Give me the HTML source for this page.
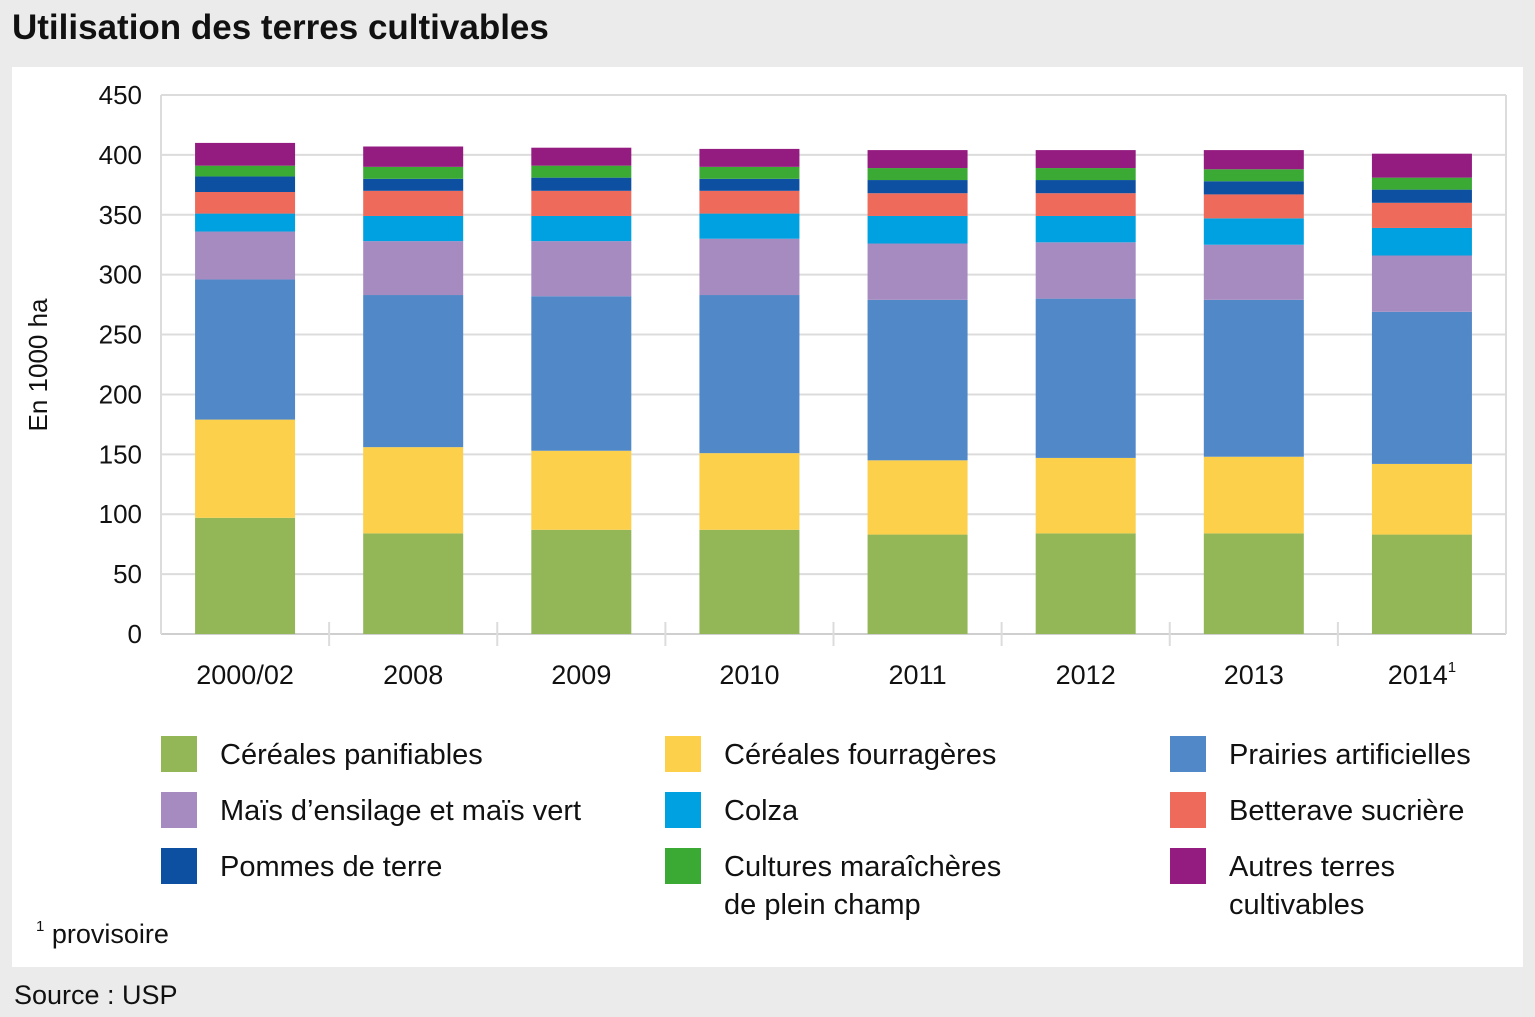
<!DOCTYPE html>
<html><head><meta charset="utf-8"><style>
body{margin:0;width:1535px;height:1017px;background:#ebebeb;font-family:"Liberation Sans Narrow","Liberation Sans",sans-serif;overflow:hidden;position:relative}
#title{position:absolute;left:12px;top:8px;font-size:35px;font-weight:bold;color:#111}
#panel{position:absolute;left:12px;top:67px;width:1511px;height:900px;background:#fff}
#src{position:absolute;left:14px;top:980px;font-size:27px;color:#111}
svg text{font-family:"Liberation Sans Narrow","Liberation Sans",sans-serif;fill:#111}
</style></head><body>
<div id="title">Utilisation des terres cultivables</div>
<div id="panel"></div>
<svg id="chart" width="1535" height="1017" style="position:absolute;left:0;top:0"></svg>
<div id="src">Source : USP</div>
<script>
const categories=["2000/02","2008","2009","2010","2011","2012","2013","2014"];
const cereales=[97,84,87,87,83,84,84,83];
const fourrageres=[82,72,66,64,62,63,64,59];
const prairies=[117,127,129,132,134,133,131,127];
const mais=[40,45,46,47,47,47,46,47];
const colza=[15,21,21,21,23,22,22,23];
const betterave=[18,21,21,19,19,19,20,21];
const pommes=[13,10,11,10,11,11,11,11];
const maraich=[9,10,10,10,10,10,10,10];
const autres=[19,17,15,15,15,15,16,20];
const yTicks=[0,50,100,150,200,250,300,350,400,450];
const series=[
 {name:"Céréales panifiables",v:cereales,c:"#93b757",k:"cereales-panifiables"},
 {name:"Céréales fourragères",v:fourrageres,c:"#fcd04b",k:"cereales-fourrageres"},
 {name:"Prairies artificielles",v:prairies,c:"#5188c7",k:"prairies-artificielles"},
 {name:"Maïs d’ensilage et maïs vert",v:mais,c:"#a68bc1",k:"mais-ensilage"},
 {name:"Colza",v:colza,c:"#00a1e0",k:"colza"},
 {name:"Betterave sucrière",v:betterave,c:"#ee6a5b",k:"betterave-sucriere"},
 {name:"Pommes de terre",v:pommes,c:"#0d4fa0",k:"pommes-de-terre"},
 {name:"Cultures maraîchères|de plein champ",v:maraich,c:"#3aaa35",k:"cultures-maraicheres"},
 {name:"Autres terres|cultivables",v:autres,c:"#941b80",k:"autres-terres"}];
const svg=document.getElementById('chart');const NS="http://www.w3.org/2000/svg";
const L=161,R=1506,T=95,B=634,ymax=450;
const y=v=>B-(B-T)*v/ymax;const bw=(R-L)/categories.length;const x=i=>L+bw*i+bw/2;
function mk(t,a,p){const e=document.createElementNS(NS,t);for(const k in a)e.setAttribute(k,a[k]);(p||svg).appendChild(e);return e;}
yTicks.forEach(t=>{const g=mk('line',{x1:L,x2:R,y1:y(t),y2:y(t),stroke:t?"#dcdcdc":"#cfcfcf","stroke-width":2});


const tx=mk('text',{x:142,y:y(t)+9,"text-anchor":"end","font-size":26});tx.textContent=t;

});
[L,R].forEach(xx=>mk('line',{x1:xx,x2:xx,y1:T,y2:B,stroke:"#dcdcdc","stroke-width":2}));
for(let i=1;i<categories.length;i++){const l=mk('line',{x1:L+bw*i,x2:L+bw*i,y1:622,y2:646,stroke:"#dcdcdc","stroke-width":2});

}
const yt=mk('text',{x:0,y:0,"font-size":26,"text-anchor":"middle",transform:"translate(47,365) rotate(-90)"});yt.textContent="En  1000 ha";


categories.forEach((c,i)=>{let base=0;series.forEach(s=>{const v=s.v[i];const r=mk('rect',{x:x(i)-50,width:100,y:y(base+v),height:y(base)-y(base+v),fill:s.c});


base+=v;});
const t=mk('text',{x:x(i),y:684,"text-anchor":"middle","font-size":27});t.textContent=c;
if(i==categories.length-1){const s=mk('tspan',{"font-size":15,dy:-12},t);s.textContent="1";}

});
const lx=[161,665,1170],ly=[736,792,848];
series.forEach((s,j)=>{const cx=lx[j%3],cy=ly[Math.floor(j/3)];
const g=mk('g',{});


mk('rect',{x:cx,y:cy,width:36,height:36,fill:s.c},g);
s.name.split('|').forEach((ln,k)=>{const t=mk('text',{x:cx+59,y:cy+28+k*38,"font-size":29},g);t.textContent=ln;});});
const fn=mk('text',{x:36,y:943,"font-size":27});const sp=mk('tspan',{"font-size":15,dy:-12},fn);sp.textContent="1";
const sp2=mk('tspan',{dy:12},fn);sp2.textContent=" provisoire";


</script>
</body></html>
